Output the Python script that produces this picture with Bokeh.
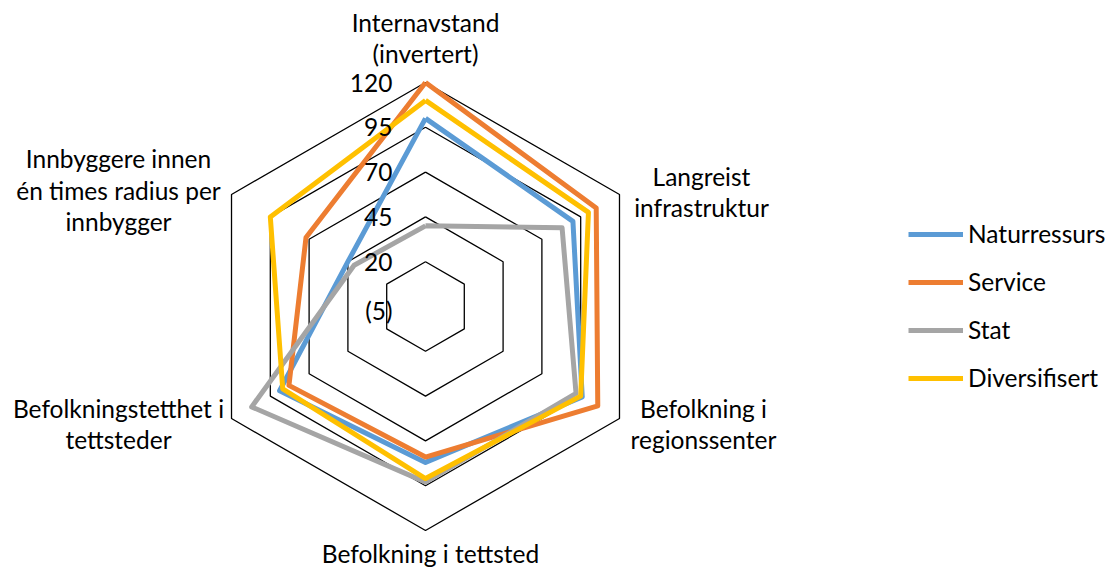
import math
from bokeh.plotting import figure
from bokeh.models import Range1d, Legend, LegendItem, ColumnDataSource
from bokeh.core.properties import value
from bokeh.embed import file_html
from bokeh.resources import INLINE

# ---- data ----
categories = [
    "Internavstand (invertert)",
    "Langreist infrastruktur",
    "Befolkning i regionssenter",
    "Befolkning i tettsted",
    "Befolkningstetthet i tettsteder",
    "Innbyggere innen én times radius per innbygger",
]
naturressurs = [100, 90, 96, 82, 89, 45]
service = [120, 105, 106, 79, 83, 72]
stat = [40, 83, 92, 93, 107, 41]
diversifisert = [110, 100, 95, 91, 87, 95]
series_names = ["Naturressurs", "Service", "Stat", "Diversifisert"]
series_values = [naturressurs, service, stat, diversifisert]
series_colors = ["#5B9BD5", "#ED7D31", "#A5A5A5", "#FFC000"]
tick_values = [-5, 20, 45, 70, 95, 120]
tick_labels = ["(5)", "20", "45", "70", "95", "120"]

# ---- scale ----
R_MIN, R_MAX = -5, 120
R_PX = 224.0          # pixel radius of the outer ring
CX, CY = 425, 306     # screen position of the centre
FONT = "Lato"
FS = "24.5px"

def rad(v):
    return (v - R_MIN) / (R_MAX - R_MIN) * R_PX

n = len(categories)
angles = [math.pi / 2 - 2 * math.pi * i / n for i in range(n)]

def polar(vals):
    xs = [rad(v) * math.cos(a) for v, a in zip(vals, angles)]
    ys = [rad(v) * math.sin(a) for v, a in zip(vals, angles)]
    return xs + xs[:1], ys + ys[:1]

W, H = 1112, 570
p = figure(width=W, height=H, output_backend="svg", toolbar_location=None,
           x_range=Range1d(-CX, W - CX), y_range=Range1d(CY - H, CY),
           min_border=0)
p.axis.visible = False
p.grid.visible = False
p.outline_line_color = None
p.background_fill_color = "white"
p.border_fill_color = "white"

# grid rings
for t in tick_values[1:]:
    gx, gy = polar([t] * n)
    p.line(gx, gy, line_color="black", line_width=1.3)

# series
renderers = []
for name, vals, col in zip(series_names, series_values, series_colors):
    sx, sy = polar(vals)
    r = p.line(sx, sy, line_color=col, line_width=5, line_join="round")
    renderers.append(r)

# tick labels (right-aligned left of the vertical axis)
tx = [-33] * len(tick_values)
ty = [rad(t) for t in tick_values]
ty[0] = -4
p.text(x=tx, y=ty, text=tick_labels, text_align="right", text_baseline="middle",
       text_font=value(FONT), text_font_size=FS, text_color="black")

# category labels, line by line (screen coordinates)
label_lines = [
    ("Internavstand", 425, 22), ("(invertert)", 425, 53),
    ("Langreist", 701, 176), ("infrastruktur", 701, 207),
    ("Befolkning i", 703, 408), ("regionssenter", 703, 439),
    ("Befolkning i tettsted", 430, 553),
    ("Befolkningstetthet i", 118, 408), ("tettsteder", 118, 439),
    ("Innbyggere innen", 118, 158), ("én times radius per", 118, 190), ("innbygger", 118, 221),
]
src = ColumnDataSource(dict(
    x=[lx - CX for _, lx, _ in label_lines],
    y=[CY - ly for _, _, ly in label_lines],
    t=[s for s, _, _ in label_lines]))
p.text(x="x", y="y", text="t", source=src, text_align="center", text_baseline="middle",
       text_font=value(FONT), text_font_size=FS, text_color="black")

legend = Legend(items=[LegendItem(label=nm, renderers=[r]) for nm, r in zip(series_names, renderers)],
                location=(908, 178), padding=0, margin=0, spacing=19,
                glyph_width=55, glyph_height=20, label_height=20, label_standoff=5,
                label_text_font=FONT, label_text_font_size=FS, label_text_color="black",
                border_line_color=None, background_fill_alpha=0)
p.add_layout(legend)

open("out.html", "w").write(file_html(p, INLINE))
